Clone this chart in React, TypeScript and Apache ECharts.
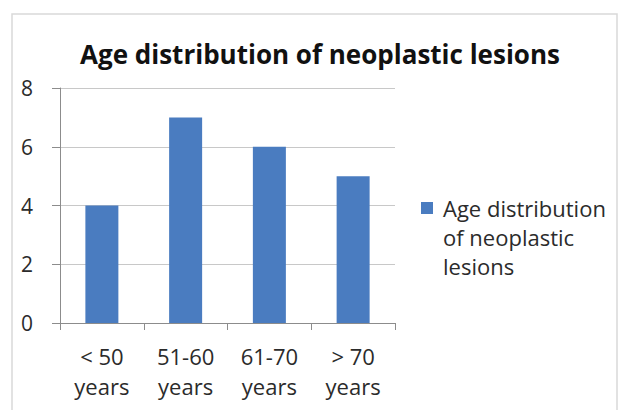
import React, { useEffect, useRef } from "react";
import * as echarts from "echarts";

const categories = ["< 50\nyears", "51-60\nyears", "61-70\nyears", "> 70\nyears"];
const lesionCounts = [4, 7, 6, 5];
const chartTitle = "Age distribution of neoplastic lesions";
const legendLines = ["Age distribution", "of neoplastic", "lesions"];

const FONT = "'Open Sans', 'Noto Sans', sans-serif";
const BAR_COLOR = "#4a7cc0";
const TEXT_COLOR = "#2b2b2b";

export default function App() {
  const ref = useRef<HTMLDivElement>(null);

  useEffect(() => {
    document.body.style.margin = "0";
    const chart = echarts.init(ref.current!, null, { renderer: "svg" });

    // Legend: swatch beside the first line of a wrapped, three-line label
    const legendX = 421;
    const legendFirstLineY = 208;
    const legendLineGap = 29;
    const legendGraphics = [
      {
        type: "rect",
        shape: { x: legendX, y: legendFirstLineY - 6, width: 12, height: 12 },
        style: { fill: BAR_COLOR },
      },
      ...legendLines.map((line, i) => ({
        type: "text",
        x: legendX + 22,
        y: legendFirstLineY + i * legendLineGap,
        style: {
          text: line,
          fontFamily: FONT,
          fontSize: 22,
          fill: TEXT_COLOR,
          textAlign: "left",
          textVerticalAlign: "middle",
        },
      })),
    ];

    chart.setOption({
      animation: false,
      backgroundColor: "#ffffff",
      textStyle: { fontFamily: FONT },
      graphic: [
        {
          type: "rect",
          shape: { x: 12, y: 14, width: 605, height: 420 },
          style: { fill: "none", stroke: "#d9d9d9", lineWidth: 1.5 },
          silent: true,
        },
        {
          type: "text",
          x: 320,
          y: 54,
          style: {
            text: chartTitle,
            fontFamily: FONT,
            fontSize: 26,
            fontWeight: "bold",
            fill: "#111111",
            textAlign: "center",
            textVerticalAlign: "middle",
          },
        },
        ...legendGraphics,
      ],
      grid: { left: 60, right: 230, top: 88, bottom: 87, containLabel: false },
      xAxis: {
        type: "category",
        data: categories,
        boundaryGap: true,
        axisLine: { show: true, lineStyle: { color: "#8c8c8c", width: 1 } },
        axisTick: { show: true, length: 7, interval: 0, lineStyle: { color: "#8c8c8c" } },
        axisLabel: {
          interval: 0,
          margin: 18,
          fontFamily: FONT,
          fontSize: 22,
          lineHeight: 30,
          color: TEXT_COLOR,
        },
      },
      yAxis: {
        type: "value",
        min: 0,
        max: 8,
        interval: 2,
        axisLine: { show: true, lineStyle: { color: "#8c8c8c", width: 1 } },
        axisTick: { show: true, length: 8, lineStyle: { color: "#8c8c8c" } },
        axisLabel: {
          margin: 27,
          fontFamily: FONT,
          fontSize: 21,
          color: TEXT_COLOR,
        },
        splitLine: { show: true, lineStyle: { color: "#c8c8c8", width: 1 } },
      },
      series: [
        {
          name: "Age distribution of neoplastic lesions",
          type: "bar",
          data: lesionCounts,
          barWidth: 33,
          itemStyle: { color: BAR_COLOR },
        },
      ],
    });
    return () => chart.dispose();
  }, []);

  return <div ref={ref} style={{ width: 625, height: 410 }} />;
}
